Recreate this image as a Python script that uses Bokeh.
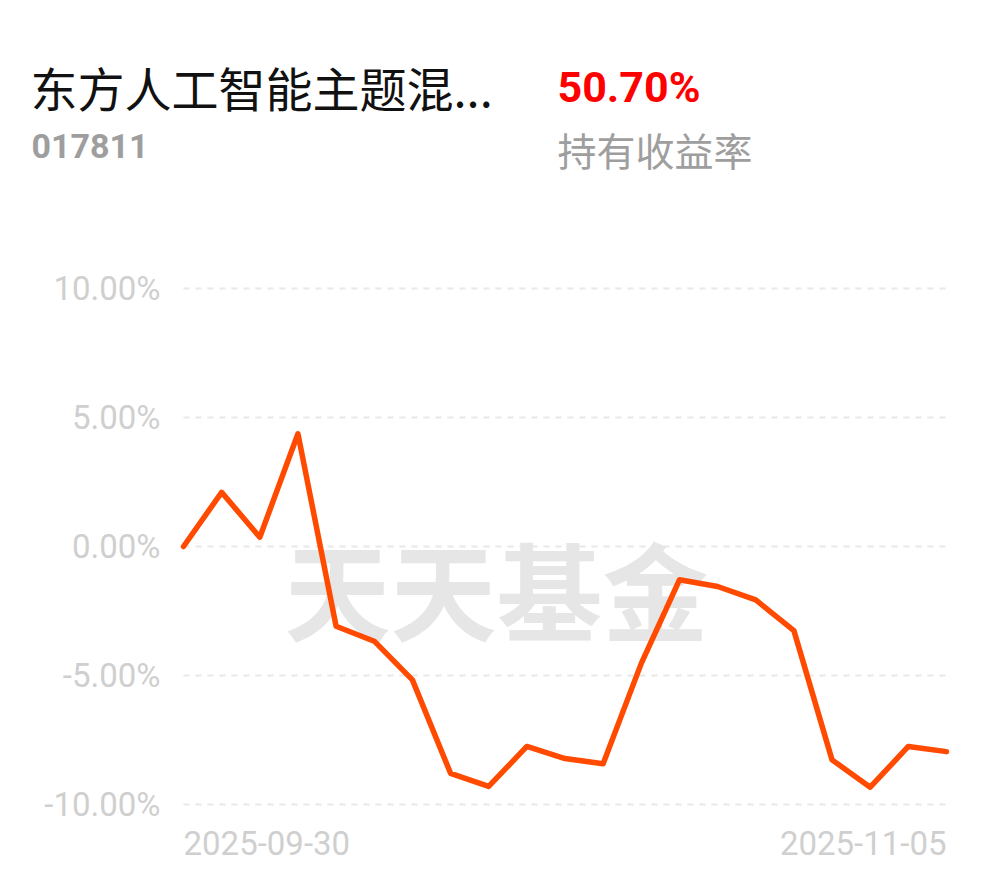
from bokeh.plotting import figure
from bokeh.models import Range1d, ColumnDataSource
from bokeh.core.properties import value
from bokeh.embed import file_html
from bokeh.resources import INLINE

# ---- data ----
fund_name = "东方人工智能主题混..."
fund_code = "017811"
holding_return = "50.70%"
return_label = "持有收益率"
watermark = "天天基金"

dates = ["2025-09-30", "2025-10-09", "2025-10-10", "2025-10-13", "2025-10-14",
         "2025-10-15", "2025-10-16", "2025-10-17", "2025-10-20", "2025-10-21",
         "2025-10-22", "2025-10-23", "2025-10-24", "2025-10-27", "2025-10-28",
         "2025-10-29", "2025-10-30", "2025-10-31", "2025-11-03", "2025-11-04",
         "2025-11-05"]
returns = [0.00, 2.10, 0.36, 4.37, -3.09, -3.67, -5.17, -8.79, -9.30, -7.75,
           -8.22, -8.42, -4.53, -1.29, -1.55, -2.07, -3.26, -8.27, -9.33, -7.75,
           -7.95]
y_ticks = [-10, -5, 0, 5, 10]
y_tick_labels = ["%.2f%%" % t for t in y_ticks]

idx = list(range(len(dates)))
n_last = idx[-1]

# canvas geometry (pixels) -> data ranges
W, H = 990, 878
X0_PX, DX_PX = 183.0, 38.15      # first point pixel x, pixel per step
Y0_PX, DY_PX = 546.0, 25.8       # zero-line pixel y, pixel per 1%

x_lo = (0 - X0_PX) / DX_PX
x_hi = (W - X0_PX) / DX_PX
y_hi = (Y0_PX - 0) / DY_PX
y_lo = (Y0_PX - H) / DY_PX

def px_x(px):
    return (px - X0_PX) / DX_PX

def px_y(py):
    return (Y0_PX - py) / DY_PX

p = figure(width=W, height=H, output_backend="svg", toolbar_location=None,
           x_range=Range1d(x_lo, x_hi), y_range=Range1d(y_lo, y_hi),
           min_border=0, background_fill_color="white",
           border_fill_color="white")
p.outline_line_color = None
p.axis.visible = False
p.grid.visible = False

# dashed horizontal grid lines at the y ticks
grid_src = ColumnDataSource(dict(y=y_ticks, lab=y_tick_labels,
                                 x0=[idx[0]] * len(y_ticks),
                                 x1=[n_last] * len(y_ticks)))
p.segment(x0="x0", x1="x1", y0="y", y1="y", source=grid_src,
          line_color="#e8e8e8", line_width=2, line_dash="6 6")

# y tick labels
p.text(x="x0", y="y", text="lab", source=grid_src, x_offset=-23,
       text_align="right", text_baseline="middle",
       text_font=value("Roboto"), text_font_size="33px", text_color="#cfcfcf")

# watermark
p.text(x=[px_x(496)], y=[px_y(586)], text=[watermark], text_align="center",
       text_baseline="middle", text_font=value("Noto Sans CJK SC"),
       text_font_style="bold", text_font_size="106px", text_color="#e6e6e6")

# main line
src = ColumnDataSource(dict(x=idx, y=returns, date=dates))
p.line("x", "y", source=src, line_color="#ff4a00", line_width=5.5,
       line_join="round", line_cap="round")

# first / last date labels
p.text(x=[idx[0]], y=[px_y(842)], text=[dates[0]], text_align="left",
       text_baseline="middle", text_font=value("Roboto"),
       text_font_size="33px", text_color="#cfcfcf")
p.text(x=[n_last], y=[px_y(842)], text=[dates[-1]], text_align="right",
       text_baseline="middle", text_font=value("Roboto"),
       text_font_size="33px", text_color="#cfcfcf")

# header
p.text(x=[px_x(30)], y=[px_y(86)], text=[fund_name], text_align="left",
       text_baseline="middle", text_font=value("Noto Sans CJK SC"),
       text_font_size="47px", text_color="#111111")
p.text(x=[px_x(31)], y=[px_y(145)], text=[fund_code], text_align="left",
       text_baseline="middle", text_font=value("Roboto"),
       text_font_style="bold", text_font_size="34px", text_color="#9e9e9e")
p.text(x=[px_x(557)], y=[px_y(86)], text=[holding_return], text_align="left",
       text_baseline="middle", text_font=value("Roboto"),
       text_font_style="bold", text_font_size="43px", text_color="#ff0000")
p.text(x=[px_x(557)], y=[px_y(148)], text=[return_label], text_align="left",
       text_baseline="middle", text_font=value("Noto Sans CJK SC"),
       text_font_size="39px", text_color="#9e9e9e")

open("out.html", "w").write(file_html(p, INLINE))
